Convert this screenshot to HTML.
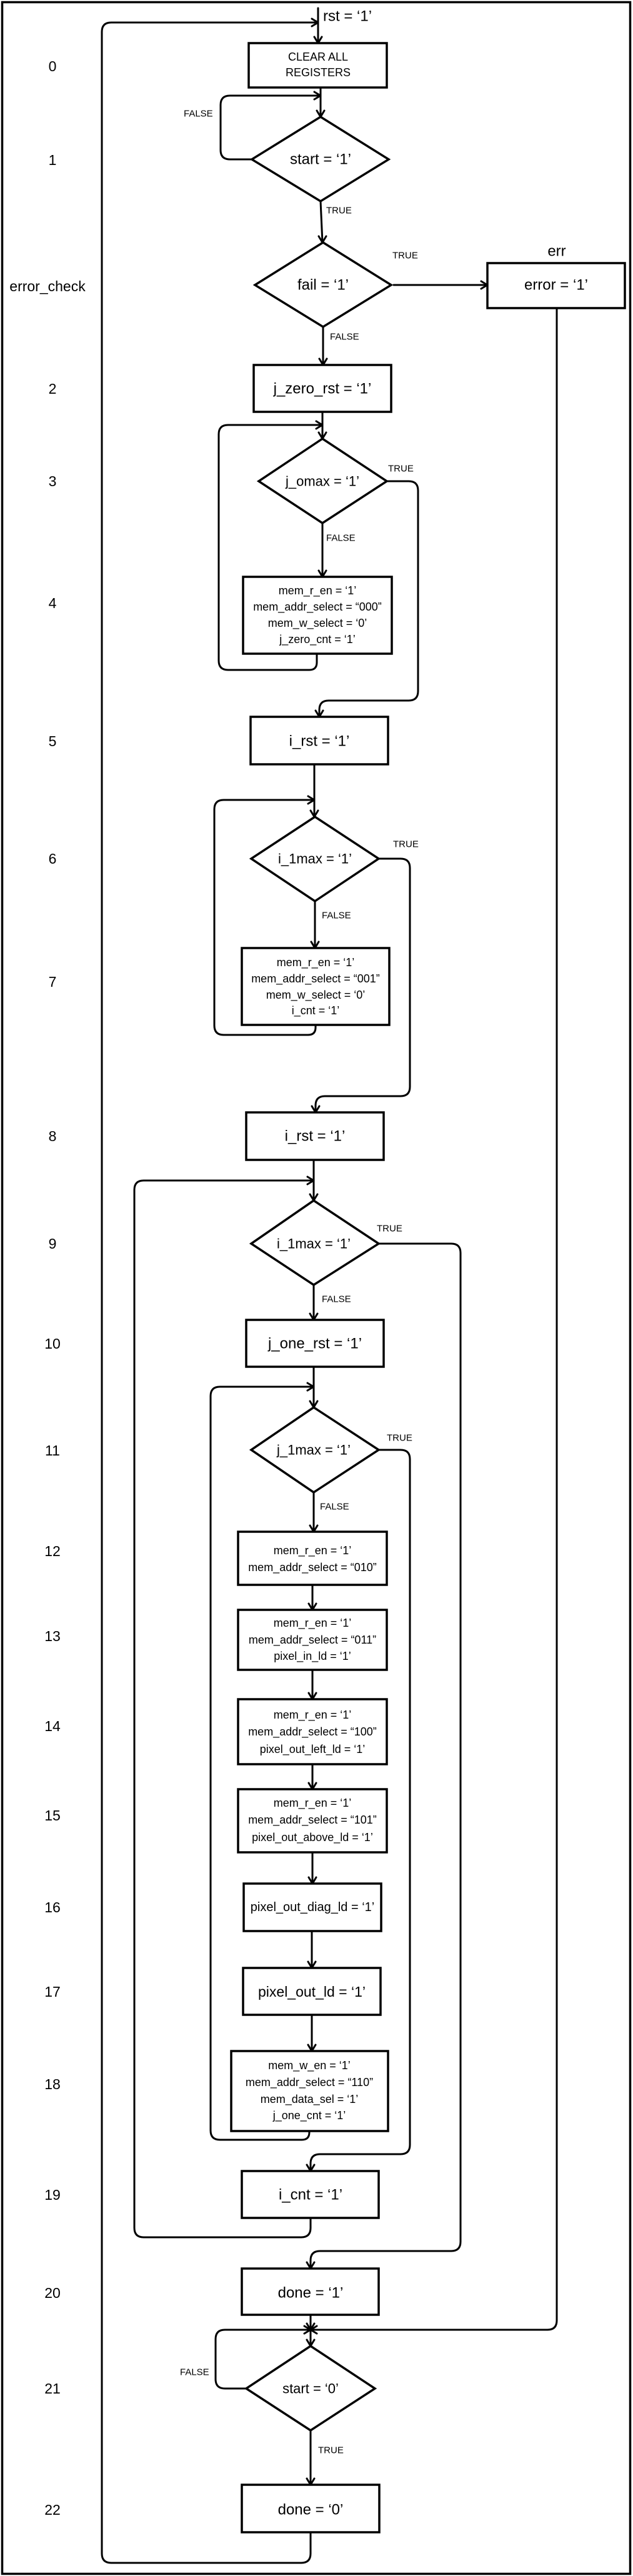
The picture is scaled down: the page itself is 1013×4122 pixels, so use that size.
<!DOCTYPE html>
<html><head><meta charset="utf-8"><style>
html,body{margin:0;padding:0;background:#fff;}
svg{display:block;}
text{font-family:"Liberation Sans",Arial,sans-serif;fill:#000;}
</style></head><body>
<svg width="1013" height="4122" viewBox="0 0 1013 4122" xmlns="http://www.w3.org/2000/svg">
<rect x="0" y="0" width="1013" height="4122" fill="#fff"/>
<rect x="3.5" y="3.5" width="1005" height="4115" fill="none" stroke="#000" stroke-width="3.5"/>

<g fill="none" stroke="#000" stroke-width="3" stroke-linejoin="round" stroke-linecap="round">
<!-- outer loop -->
<path d="M497 4052 V4086 Q497 4101 482 4101 H178 Q163 4101 163 4086 V51 Q163 36 178 36 H509"/>
<polyline points="499,30 509,36 499,42"/>
<path d="M509 13 V69"/><polyline points="503,59 509,69 515,59"/>
<path d="M513 140 V187"/><polyline points="507,177 513,187 519,177"/>
<path d="M403 255 H368 Q353 255 353 240 V168 Q353 153 368 153 H513"/><polyline points="503,147 513,153 503,159"/>
<path d="M513 322 L516 388"/><polyline points="510,378 516,388 522,378"/>
<path d="M630 456 H780"/><polyline points="770,450 780,456 770,462"/>
<path d="M891 493 V3713 Q891 3728 876 3728 H497"/><polyline points="507,3722 497,3728 507,3734"/>
<path d="M517 523 V584"/><polyline points="511,574 517,584 523,574"/>
<path d="M516 659 V702"/><polyline points="510,692 516,702 522,692"/>
<path d="M507 1046 V1060 Q507 1072 495 1072 H365 Q350 1072 350 1057 V695 Q350 680 365 680 H516"/><polyline points="506,674 516,680 506,686"/>
<path d="M619 770 H654 Q669 770 669 785 V1106 Q669 1121 654 1121 H526 Q511 1121 511 1136 V1147"/><polyline points="505,1137 511,1147 517,1137"/>
<path d="M516 837 V923"/><polyline points="510,913 516,923 522,913"/>
<path d="M503 1223 V1307"/><polyline points="497,1297 503,1307 509,1297"/>
<path d="M505 1640 V1644 Q505 1656 493 1656 H358 Q343 1656 343 1641 V1295 Q343 1280 358 1280 H503"/><polyline points="493,1274 503,1280 493,1286"/>
<path d="M606 1374 H641 Q656 1374 656 1389 V1739 Q656 1754 641 1754 H520 Q505 1754 505 1769 V1780"/><polyline points="499,1770 505,1780 511,1770"/>
<path d="M504 1442 V1517"/><polyline points="498,1507 504,1517 510,1507"/>
<path d="M502 1856 V1921"/><polyline points="496,1911 502,1921 508,1911"/>
<path d="M497 3549 V3565 Q497 3580 482 3580 H230 Q215 3580 215 3565 V1904 Q215 1889 230 1889 H502"/><polyline points="492,1883 502,1889 492,1895"/>
<path d="M606 1990 H722 Q737 1990 737 2005 V3587 Q737 3602 722 3602 H512 Q497 3602 497 3617 V3630"/><polyline points="491,3620 497,3630 503,3620"/>
<path d="M502 2056 V2112"/><polyline points="496,2102 502,2112 508,2102"/>
<path d="M502 2187 V2252"/><polyline points="496,2242 502,2252 508,2242"/>
<path d="M495 3410 V3412 Q495 3424 483 3424 H352 Q337 3424 337 3409 V2234 Q337 2219 352 2219 H502"/><polyline points="492,2213 502,2219 492,2225"/>
<path d="M606 2320 H641 Q656 2320 656 2335 V3432 Q656 3447 641 3447 H512 Q497 3447 497 3462 V3474"/><polyline points="491,3464 497,3474 503,3464"/>
<path d="M502 2388 V2451"/><polyline points="496,2441 502,2451 508,2441"/>
<path d="M500 2536 V2576"/><polyline points="494,2566 500,2576 506,2566"/>
<path d="M500 2672 V2719"/><polyline points="494,2709 500,2719 506,2709"/>
<path d="M500 2823 V2863"/><polyline points="494,2853 500,2863 506,2853"/>
<path d="M500 2964 V3014"/><polyline points="494,3004 500,3014 506,3004"/>
<path d="M499 3090 V3149"/><polyline points="493,3139 499,3149 505,3139"/>
<path d="M499 3224 V3282"/><polyline points="493,3272 499,3282 505,3272"/>
<path d="M497 3704 V3754"/><polyline points="491,3744 497,3754 503,3744"/>
<polyline points="491,3718 497,3728 503,3718"/>
<path d="M394 3822 H360 Q345 3822 345 3807 V3743 Q345 3728 360 3728 H497"/><polyline points="487,3722 497,3728 487,3734"/>
<path d="M497 3889 V3976"/><polyline points="491,3966 497,3976 497,3976 503,3966"/>
</g>

<g fill="#fff" stroke="#000" stroke-width="3.5">
<rect x="398" y="69" width="221" height="71"/>
<polygon points="513,187 622,255 513,322 403,255"/>
<polygon points="517,388 626,456 517,523 408,456"/>
<rect x="780" y="421" width="220" height="72"/>
<rect x="406" y="584" width="220" height="75"/>
<polygon points="516,702 619,770 516,837 414,770"/>
<rect x="389" y="923" width="238" height="123"/>
<rect x="401" y="1147" width="220" height="76"/>
<polygon points="504,1307 606,1374 504,1442 402,1374"/>
<rect x="387" y="1517" width="236" height="123"/>
<rect x="394" y="1780" width="220" height="76"/>
<polygon points="502,1921 606,1990 502,2056 402,1990"/>
<rect x="394" y="2112" width="220" height="75"/>
<polygon points="502,2252 606,2320 502,2388 402,2320"/>
<rect x="381" y="2451" width="238" height="85"/>
<rect x="381" y="2576" width="238" height="96"/>
<rect x="381" y="2719" width="238" height="104"/>
<rect x="381" y="2863" width="238" height="101"/>
<rect x="390" y="3014" width="220" height="76"/>
<rect x="389" y="3149" width="220" height="75"/>
<rect x="370" y="3282" width="251" height="128"/>
<rect x="387" y="3474" width="219" height="75"/>
<rect x="387" y="3630" width="219" height="74"/>
<polygon points="497,3754 600,3822 497,3889 394,3822"/>
<rect x="387" y="3976" width="220" height="76"/>
</g>

<!-- left labels -->
<g font-size="23" text-anchor="middle" dominant-baseline="central">
<text x="84" y="106">0</text>
<text x="84" y="256">1</text>
<text x="76" y="458">error_check</text>
<text x="84" y="622">2</text>
<text x="84" y="770">3</text>
<text x="84" y="965">4</text>
<text x="84" y="1186">5</text>
<text x="84" y="1374">6</text>
<text x="84" y="1571">7</text>
<text x="84" y="1818">8</text>
<text x="84" y="1990">9</text>
<text x="84" y="2150">10</text>
<text x="84" y="2321">11</text>
<text x="84" y="2482">12</text>
<text x="84" y="2618">13</text>
<text x="84" y="2762">14</text>
<text x="84" y="2905">15</text>
<text x="84" y="3052">16</text>
<text x="84" y="3187">17</text>
<text x="84" y="3335">18</text>
<text x="84" y="3512">19</text>
<text x="84" y="3669">20</text>
<text x="84" y="3822">21</text>
<text x="84" y="4016">22</text>
</g>

<!-- small TRUE/FALSE labels -->
<g font-size="15" dominant-baseline="central">
<text x="294" y="182">FALSE</text>
<text x="522" y="337">TRUE</text>
<text x="628" y="409">TRUE</text>
<text x="528" y="539">FALSE</text>
<text x="621" y="750">TRUE</text>
<text x="522" y="861">FALSE</text>
<text x="629" y="1351">TRUE</text>
<text x="515" y="1465">FALSE</text>
<text x="603" y="1966">TRUE</text>
<text x="515" y="2079">FALSE</text>
<text x="619" y="2301">TRUE</text>
<text x="512" y="2411">FALSE</text>
<text x="288" y="3796">FALSE</text>
<text x="509" y="3921">TRUE</text>
</g>

<g text-anchor="middle" dominant-baseline="central">
<text x="517" y="26" font-size="24" text-anchor="start">rst = ‘1’</text>
<text x="509" y="91" font-size="18">CLEAR ALL</text>
<text x="509" y="116" font-size="18">REGISTERS</text>
<text x="513" y="255" font-size="24">start = ‘1’</text>
<text x="517" y="456" font-size="24">fail = ‘1’</text>
<text x="891" y="402" font-size="24">err</text>
<text x="890" y="456" font-size="24">error = ‘1’</text>
<text x="516" y="622" font-size="24">j_zero_rst = ‘1’</text>
<text x="516" y="770" font-size="22">j_omax = ‘1’</text>
<g font-size="18">
<text x="508" y="945">mem_r_en = ‘1’</text>
<text x="508" y="971">mem_addr_select = “000”</text>
<text x="508" y="997">mem_w_select = ‘0’</text>
<text x="508" y="1023">j_zero_cnt = ‘1’</text>
</g>
<text x="511" y="1186" font-size="24">i_rst = ‘1’</text>
<text x="504" y="1374" font-size="22">i_1max = ‘1’</text>
<g font-size="18">
<text x="505" y="1540">mem_r_en = ‘1’</text>
<text x="505" y="1566">mem_addr_select = “001”</text>
<text x="505" y="1592">mem_w_select = ‘0’</text>
<text x="505" y="1617">i_cnt = ‘1’</text>
</g>
<text x="504" y="1818" font-size="24">i_rst = ‘1’</text>
<text x="502" y="1990" font-size="22">i_1max = ‘1’</text>
<text x="504" y="2150" font-size="24">j_one_rst = ‘1’</text>
<text x="502" y="2320" font-size="22">j_1max = ‘1’</text>
<g font-size="18">
<text x="500" y="2481">mem_r_en = ‘1’</text>
<text x="500" y="2508">mem_addr_select = “010”</text>
<text x="500" y="2597">mem_r_en = ‘1’</text>
<text x="500" y="2624">mem_addr_select = “011”</text>
<text x="500" y="2650">pixel_in_ld = ‘1’</text>
<text x="500" y="2744">mem_r_en = ‘1’</text>
<text x="500" y="2771">mem_addr_select = “100”</text>
<text x="500" y="2799">pixel_out_left_ld = ‘1’</text>
<text x="500" y="2885">mem_r_en = ‘1’</text>
<text x="500" y="2912">mem_addr_select = “101”</text>
<text x="500" y="2940">pixel_out_above_ld = ‘1’</text>
<text x="500" y="3052" font-size="20">pixel_out_diag_ld = ‘1’</text>
<text x="495" y="3305">mem_w_en = ‘1’</text>
<text x="495" y="3332">mem_addr_select = “110”</text>
<text x="495" y="3359">mem_data_sel = ‘1’</text>
<text x="495" y="3385">j_one_cnt = ‘1’</text>
</g>
<text x="499" y="3187" font-size="23">pixel_out_ld = ‘1’</text>
<text x="497" y="3512" font-size="24">i_cnt = ‘1’</text>
<text x="497" y="3669" font-size="24">done = ‘1’</text>
<text x="497" y="3822" font-size="22">start = ‘0’</text>
<text x="497" y="4016" font-size="24">done = ‘0’</text>
</g>
</svg>
</body></html>
